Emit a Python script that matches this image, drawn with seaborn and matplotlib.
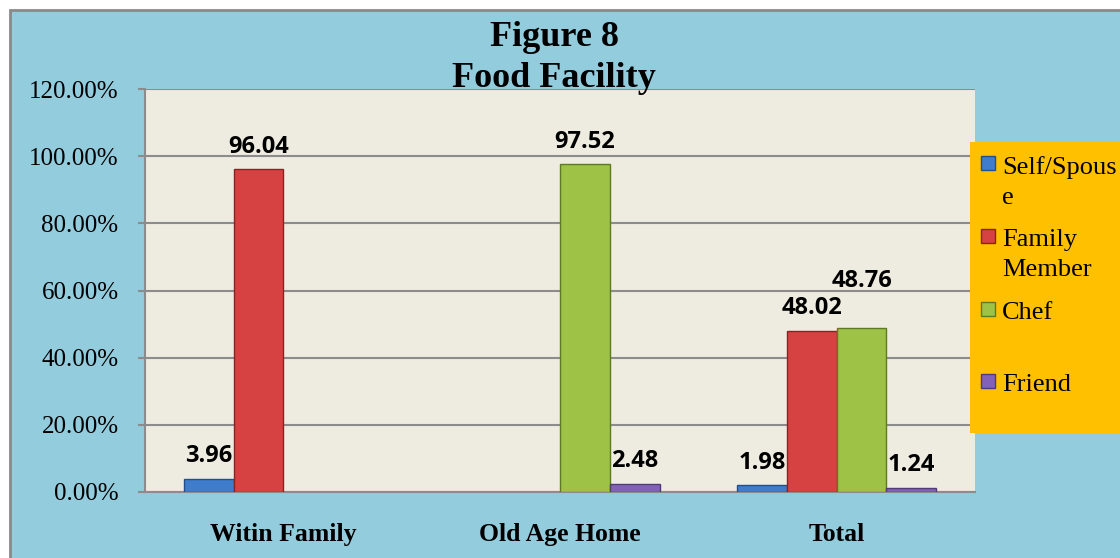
import matplotlib
matplotlib.use("Agg")
import matplotlib.pyplot as plt
import matplotlib.patches as mpatches
from matplotlib.ticker import PercentFormatter, MultipleLocator
import seaborn as sns
import pandas as pd

# ---- data ----
categories = ["Witin Family", "Old Age Home", "Total"]
series = ["Self/Spouse", "Family Member", "Chef", "Friend"]
legend_labels = ["Self/Spous\ne", "Family\nMember", "Chef", "Friend"]
self_spouse = [3.96, 0.0, 1.98]
family_member = [96.04, 0.0, 48.02]
chef = [0.0, 97.52, 48.76]
friend = [0.0, 2.48, 1.24]
title_lines = ["Figure 8", "Food Facility"]

values = [self_spouse, family_member, chef, friend]
rows = []
for s, vals in zip(series, values):
    for c, v in zip(categories, vals):
        rows.append({"category": c, "series": s, "value": v})
df = pd.DataFrame(rows)

colors = ["#3F7DCC", "#D64242", "#9DC245", "#8262B8"]
edges = ["#234F8A", "#8A2222", "#5E7A22", "#4F3A7A"]

sns.set_theme(style="white")
plt.rcParams["font.family"] = ["Liberation Serif", "DejaVu Serif"]
plt.rcParams["text.color"] = "black"

W, H = 1120, 558
fig = plt.figure(figsize=(W / 100, H / 100), dpi=100)
fig.patch.set_facecolor("white")
# outer chart area
fig.patches.append(mpatches.Rectangle((10 / W, -0.01), 1.02, 1 - 10 / H + 0.01,
                                      transform=fig.transFigure, facecolor="#93CCDD",
                                      edgecolor="#8A8A8A", linewidth=2, zorder=-5))

ax = fig.add_axes([145 / W, 1 - 492 / H, (975 - 145) / W, (492 - 89) / H])
ax.set_zorder(1)
ax.set_facecolor("#EEEBE1")

sns.barplot(data=df, x="category", y="value", hue="series", hue_order=series,
            order=categories, palette=colors, saturation=1, width=0.72,
            ax=ax, legend=False, zorder=3)

for cont, ec in zip(ax.containers, edges):
    for bar in cont:
        bar.set_edgecolor(ec)
        bar.set_linewidth(1.0 if bar.get_height() > 0 else 0)

extra = {"Chef": {"Total": 18}}
for cont, s in zip(ax.containers, series):
    for bar, c in zip(cont, categories):
        h = bar.get_height()
        if h > 0:
            off = 12 + extra.get(s, {}).get(c, 0)
            ax.annotate(f"{h:.2f}", (bar.get_x() + bar.get_width() / 2, h),
                        xytext=(0, off), textcoords="offset points",
                        ha="center", va="baseline", fontsize=17,
                        fontweight="bold", family=["Open Sans", "DejaVu Sans"],
                        color="black", zorder=6)

ax.set_ylim(0, 120)
ax.yaxis.set_major_locator(MultipleLocator(20))
ax.yaxis.set_major_formatter(PercentFormatter(xmax=100, decimals=2))
ax.grid(axis="y", color="#8C8C8C", linewidth=1.5, zorder=1)
ax.set_axisbelow(True)
ax.set_xlabel("")
ax.set_ylabel("")
for side in ["top", "right"]:
    ax.spines[side].set_visible(False)
for side in ["left", "bottom"]:
    ax.spines[side].set_color("#8C8C8C")
    ax.spines[side].set_linewidth(1.5)
ax.tick_params(axis="y", which="major", left=True, length=5, width=1.5,
               color="#8C8C8C", pad=14, labelsize=18, labelcolor="black")
ax.tick_params(axis="x", which="major", bottom=False, length=0, pad=22,
               labelsize=18.5, labelcolor="black")
for lbl in ax.get_xticklabels():
    lbl.set_fontweight("bold")

# title
fig.text(554 / W, 1 - 38 / H, title_lines[0], ha="center", va="center",
         fontsize=26, fontweight="bold", color="black", zorder=10)
fig.text(554 / W, 1 - 79 / H, title_lines[1], ha="center", va="center",
         fontsize=26, fontweight="bold", color="black", zorder=10)

# legend
fig.patches.append(mpatches.Rectangle((970 / W, 1 - 433 / H), (1125 - 970) / W,
                                      (433 - 142) / H, transform=fig.transFigure,
                                      facecolor="#FFC000", edgecolor="none", zorder=5))
marker_y = [163, 236, 309, 381]
for lab, col, ec, my in zip(legend_labels, colors, edges, marker_y):
    fig.patches.append(mpatches.Rectangle((981 / W, 1 - (my + 7) / H), 14 / W, 14 / H,
                                          transform=fig.transFigure, facecolor=col,
                                          edgecolor=ec, linewidth=1, zorder=6))
    fig.text(1002 / W, 1 - (my - 7) / H, lab, ha="left", va="top",
             fontsize=19, color="black", zorder=7, linespacing=1.5)

fig.savefig("out.png", dpi=100, facecolor=fig.get_facecolor())
